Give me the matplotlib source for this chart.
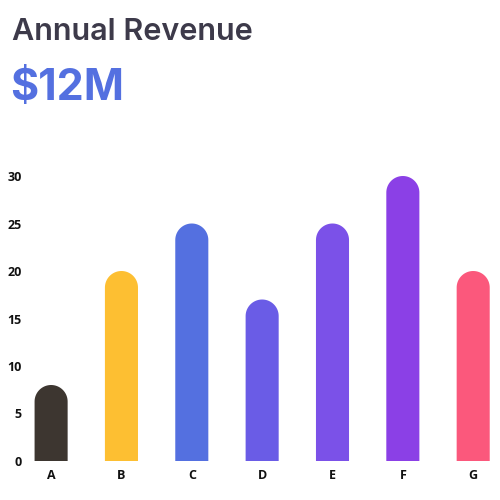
import numpy as np
import matplotlib.pyplot as plt
from matplotlib.patches import Polygon

categories = ['A', 'B', 'C', 'D', 'E', 'F', 'G']
values = [8, 20, 25, 17, 25, 30, 20]
colors = ['#3d3630', '#fdbf32', '#5470e0', '#6a5ce6', '#7b51e8', '#8b40e6', '#fb587c']

fig = plt.figure(figsize=(5, 5), dpi=100)
ax = fig.add_axes([0.06, 0.078, 0.93, 0.57])

bar_w = 0.47
cap_h = 1.74  # height of the rounded top, in data units
t = np.linspace(0, np.pi, 40)
for i, (v, c) in enumerate(zip(values, colors)):
    # bar outline: bottom corners plus a half-ellipse on top
    xs = np.concatenate([[i + bar_w / 2], i + bar_w / 2 * np.cos(t), [i - bar_w / 2]])
    ys = np.concatenate([[0], v - cap_h + cap_h * np.sin(t), [0]])
    ax.add_patch(Polygon(np.column_stack([xs, ys]), closed=True, facecolor=c, lw=0))

ax.set_xlim(-0.3, 6.31)
ax.set_ylim(0, 30)
ax.set_yticks([0, 5, 10, 15, 20, 25, 30])
ax.set_xticks(range(len(categories)))
ax.set_xticklabels(categories)
for s in ax.spines.values():
    s.set_visible(False)
ax.tick_params(length=0, labelsize=9, labelcolor='#111111', pad=6)
for lab in ax.get_xticklabels() + ax.get_yticklabels():
    lab.set_fontfamily('Open Sans')
    lab.set_fontweight('bold')

fig.text(0.024, 0.92, 'Annual Revenue', fontsize=22, fontfamily='Inter',
         fontweight='semibold', color='#3d3a4a', va='baseline')
fig.text(0.02, 0.8, '$12M', fontsize=31, fontfamily='Inter',
         fontweight='bold', color='#5470e0', va='baseline')

fig.savefig('out.png', dpi=100)
